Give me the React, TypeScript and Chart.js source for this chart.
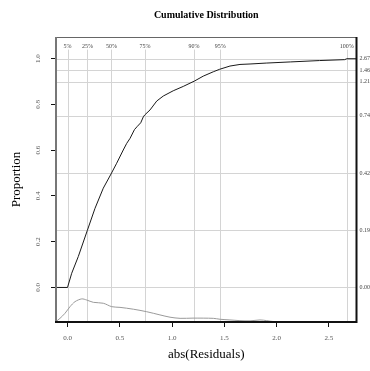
import React, { useEffect, useRef } from "react";
import { Chart, registerables } from "chart.js";

Chart.register(...registerables);

// Empirical CDF of abs(residuals)
const cdfX = [-0.11, 0, 0.04, 0.103, 0.19, 0.263, 0.342, 0.416, 0.47, 0.533, 0.566, 0.598, 0.64, 0.665, 0.7, 0.725, 0.738, 0.789, 0.853, 0.916, 1.011, 1.107, 1.216, 1.298, 1.394, 1.455, 1.553, 1.649, 1.745, 1.9, 2.13, 2.41, 2.65, 2.67, 2.77];
const cdfY = [0, 0, 0.062, 0.135, 0.25, 0.346, 0.434, 0.496, 0.543, 0.601, 0.63, 0.652, 0.69, 0.703, 0.72, 0.746, 0.754, 0.776, 0.815, 0.837, 0.86, 0.879, 0.903, 0.924, 0.943, 0.954, 0.968, 0.975, 0.977, 0.981, 0.986, 0.992, 0.996, 1.0, 1.0];

// Scaled density curve drawn beneath the CDF
const densX = [-0.11, -0.072, -0.024, 0.024, 0.072, 0.136, 0.184, 0.247, 0.342, 0.423, 0.502, 0.629, 0.757, 0.884, 0.98, 1.076, 1.2, 1.394, 1.458, 1.553, 1.649, 1.745, 1.84, 1.905, 1.968, 2.77];
const densY = [-0.149, -0.135, -0.113, -0.084, -0.062, -0.05, -0.055, -0.065, -0.069, -0.084, -0.087, -0.095, -0.106, -0.12, -0.13, -0.135, -0.134, -0.135, -0.139, -0.142, -0.145, -0.146, -0.142, -0.145, -0.149, -0.151];

// Quantile reference lines
const quantileLabels = ["5%", "25%", "50%", "75%", "90%", "95%", "100%"];
const quantileValues = [0.0, 0.19, 0.42, 0.74, 1.21, 1.46, 2.67];
const quantileProps = [0.0, 0.25, 0.5, 0.75, 0.9, 0.95, 1.0];

const xRange = [-0.11, 2.763];
const yRange = [-0.151, 1.095];

const SERIF = "'Liberation Serif', 'DejaVu Serif', serif";

const overlay = {
  id: "overlay",
  beforeDatasetsDraw(chart: any) {
    const { ctx, chartArea: a, scales } = chart;
    const xs = scales.x, ys = scales.y;
    ctx.save();
    ctx.strokeStyle = "#d4d4d4";
    ctx.lineWidth = 1;
    const yTop = ys.getPixelForValue(1.04);
    quantileValues.forEach((v) => {
      const px = Math.round(xs.getPixelForValue(v)) + 0.5;
      ctx.beginPath();
      ctx.moveTo(px, a.bottom);
      ctx.lineTo(px, yTop);
      ctx.stroke();
    });
    quantileProps.forEach((p) => {
      const py = Math.round(ys.getPixelForValue(p)) + 0.5;
      ctx.beginPath();
      ctx.moveTo(a.left, py);
      ctx.lineTo(a.right, py);
      ctx.stroke();
    });
    ctx.restore();
  },
  afterDraw(chart: any) {
    const { ctx, chartArea: a, scales } = chart;
    const xs = scales.x, ys = scales.y;
    ctx.save();
    // borders
    ctx.lineWidth = 1;
    ctx.strokeStyle = "#666";
    ctx.beginPath();
    ctx.moveTo(a.left, a.top + 0.5);
    ctx.lineTo(a.right, a.top + 0.5);
    ctx.stroke();
    ctx.lineWidth = 2;
    ctx.strokeStyle = "#777";
    ctx.beginPath();
    ctx.moveTo(a.left, a.top);
    ctx.lineTo(a.left, a.bottom);
    ctx.stroke();
    ctx.strokeStyle = "#111";
    ctx.beginPath();
    ctx.moveTo(a.left - 1, a.bottom);
    ctx.lineTo(a.right, a.bottom);
    ctx.lineTo(a.right, a.top);
    ctx.stroke();

    // top percent labels
    ctx.fillStyle = "#444";
    ctx.font = `6px ${SERIF}`;
    ctx.textAlign = "center";
    ctx.textBaseline = "middle";
    const yl = ys.getPixelForValue(1.053);
    quantileValues.forEach((v, i) => {
      ctx.fillText(quantileLabels[i], xs.getPixelForValue(v), yl);
    });
    // right side quantile values
    ctx.textAlign = "left";
    quantileProps.forEach((p, i) => {
      ctx.fillText(quantileValues[i].toFixed(2), a.right + 3, ys.getPixelForValue(p));
    });

    // y tick labels rotated
    ctx.font = `7px ${SERIF}`;
    ctx.fillStyle = "#555";
    ys.ticks.forEach((t: any) => {
      const py = ys.getPixelForValue(t.value);
      ctx.save();
      ctx.translate(a.left - 18, py);
      ctx.rotate(-Math.PI / 2);
      ctx.textAlign = "center";
      ctx.textBaseline = "middle";
      ctx.fillText(Number(t.value).toFixed(1), 0, 0);
      ctx.restore();
    });

    // titles
    ctx.fillStyle = "#000";
    ctx.font = `bold 10px ${SERIF}`;
    ctx.textAlign = "center";
    ctx.textBaseline = "middle";
    ctx.fillText("Cumulative Distribution", (a.left + a.right) / 2, 15.5);
    ctx.font = `13px ${SERIF}`;
    ctx.fillText("abs(Residuals)", (a.left + a.right) / 2, 355);
    ctx.save();
    ctx.translate(17, (a.top + a.bottom) / 2);
    ctx.rotate(-Math.PI / 2);
    ctx.fillText("Proportion", 0, 0);
    ctx.restore();
    ctx.restore();
  },
};

export default function App() {
  const ref = useRef<HTMLCanvasElement | null>(null);
  useEffect(() => {
    if (!ref.current) return;
    const chart = new Chart(ref.current, {
      type: "scatter",
      data: {
        datasets: [
          {
            data: cdfX.map((x, i) => ({ x, y: cdfY[i] })),
            showLine: true,
            borderColor: "#1a1a1a",
            borderWidth: 1,
            pointRadius: 0,
            tension: 0,
          },
          {
            data: densX.map((x, i) => ({ x, y: densY[i] })),
            showLine: true,
            borderColor: "#9a9a9a",
            borderWidth: 1,
            pointRadius: 0,
            tension: 0.3,
          },
        ],
      },
      options: {
        animation: false,
        responsive: false,
        layout: { padding: { top: 37, right: 13.5, left: 0, bottom: 0 } },
        plugins: { legend: { display: false }, tooltip: { enabled: false }, title: { display: false } },
        scales: {
          x: {
            type: "linear",
            min: xRange[0],
            max: xRange[1],
            border: { display: false },
            grid: { drawOnChartArea: false, drawTicks: true, tickLength: 5, tickColor: "#111", lineWidth: 1 },
            ticks: {
              stepSize: 0.5,
              includeBounds: false,
              padding: 7,
              color: "#555",
              font: { family: SERIF, size: 7 },
              maxRotation: 0,
              callback: (v: any) => Number(v).toFixed(1),
            },
            afterFit: (s: any) => { s.height = 49; },
          },
          y: {
            type: "linear",
            min: yRange[0],
            max: yRange[1],
            border: { display: false },
            grid: { drawOnChartArea: false, drawTicks: true, tickLength: 5, tickColor: "#111", lineWidth: 1 },
            ticks: {
              stepSize: 0.2,
              includeBounds: false,
              display: false,
            },
            afterFit: (s: any) => { s.width = 56; },
          },
        },
      },
      plugins: [overlay],
    });
    return () => chart.destroy();
  }, []);
  return (
    <div style={{ position: "fixed", left: 0, top: 0, width: 370, height: 371, background: "#fff" }}>
      <canvas ref={ref} width={370} height={371} style={{ width: 370, height: 371 }} />
    </div>
  );
}
